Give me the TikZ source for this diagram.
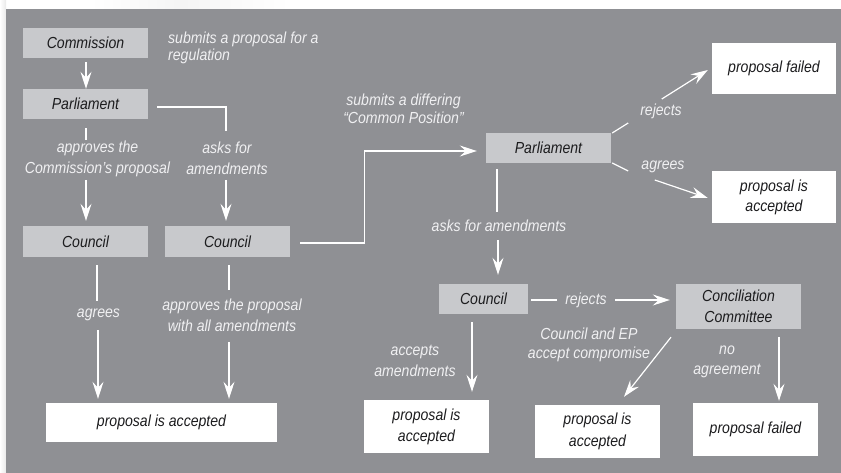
\documentclass[tikz,border=0pt]{standalone}
\usepackage{fontspec}
\setmainfont{Liberation Sans}[FakeStretch=0.88]
\usetikzlibrary{arrows.meta,calc}
\definecolor{panel}{RGB}{143,144,148}
\definecolor{boxgray}{RGB}{200,201,204}
\definecolor{ink}{RGB}{28,28,30}
\definecolor{lbltext}{RGB}{240,240,242}
\newcommand{\dfont}{\fontsize{16}{20}\selectfont\itshape}
\begin{document}
\begin{tikzpicture}[x=1pt,y=-1pt,
  box/.style={fill=boxgray, text=ink, inner sep=0pt, font=\dfont, align=center},
  wbox/.style={box, fill=white},
  lbl/.style={text=lbltext, inner sep=0pt, font=\dfont, align=center},
  conn/.style={draw=white, line width=1.2pt},
  arr/.style={conn, -{Stealth[length=17pt,width=11pt,inset=6pt]}},
]
% background
\useasboundingbox (0,0) rectangle (841,473);
\fill[white] (0,0) rectangle (841,473);
\shade[left color=white, right color=gray!18] (0,0) rectangle (6,473);
\shade[left color=white, right color=gray!8] (90,0) rectangle (180,9);
\shade[left color=gray!8, right color=white] (180,0) rectangle (290,9);
\fill[panel] (6,9) rectangle (841,473);

% boxes
\node[box, minimum width=125pt, minimum height=30pt] (comm) at (85.5,43) {Commission};
\node[box, minimum width=125pt, minimum height=30pt] (parl1) at (85.5,104) {Parliament};
\node[box, minimum width=125pt, minimum height=31pt] (coun1) at (85.5,241.5) {Council};
\node[box, minimum width=125pt, minimum height=31pt] (coun2) at (227.5,241.5) {Council};
\node[wbox, minimum width=231pt, minimum height=39pt] (acc1) at (161.5,422.5) {proposal is accepted};
\node[box, minimum width=125pt, minimum height=30pt] (parl2) at (548.5,148) {Parliament};
\node[wbox, minimum width=124pt, minimum height=51pt] (fail1) at (774,68.5) {proposal failed};
\node[wbox, minimum width=124pt, minimum height=52pt, font=\fontsize{16}{20}\selectfont\itshape] (acc2) at (774,197) {proposal is\\accepted};
\node[box, minimum width=89pt, minimum height=30pt] (coun3) at (483.5,299) {Council};
\node[box, minimum width=125pt, minimum height=45pt, font=\fontsize{16}{21}\selectfont\itshape] (conc) at (738.5,306.5) {Conciliation\\Committee};
\node[wbox, minimum width=125pt, minimum height=53pt, font=\fontsize{16}{21}\selectfont\itshape] (acc3) at (426.5,426.5) {proposal is\\accepted};
\node[wbox, minimum width=125pt, minimum height=53pt, font=\fontsize{16}{22}\selectfont\itshape] (acc4) at (597.5,431.5) {proposal is\\accepted};
\node[wbox, minimum width=125pt, minimum height=53pt] (fail2) at (755.5,429.5) {proposal failed};

% labels
\node[lbl, align=left, anchor=west, font=\fontsize{16}{17}\selectfont\itshape] (t1) at (168,48) {submits a proposal for a\\regulation};
\node[lbl, font=\fontsize{16}{21}\selectfont\itshape] (t2) at (97.5,159) {approves the\\Commission’s proposal};
\node[lbl, font=\fontsize{16}{21}\selectfont\itshape] (t3) at (227,158) {asks for\\amendments};
\node[lbl] (t4) at (98.5,315) {agrees};
\node[lbl, font=\fontsize{16}{21}\selectfont\itshape] (t5) at (232,315.5) {approves the proposal\\with all amendments};
\node[lbl, font=\fontsize{16}{18}\selectfont\itshape] (t6) at (403.5,109) {submits a differing\\“Common Position”};
\node[lbl] (t7) at (499,226) {asks for amendments};
\node[lbl] (t8) at (661,111) {rejects};
\node[lbl] (t9) at (663,167) {agrees};
\node[lbl] (t10) at (586,300) {rejects};
\node[lbl, font=\fontsize{16}{21}\selectfont\itshape] (t11) at (415,360.5) {accepts\\amendments};
\node[lbl, font=\fontsize{16}{19}\selectfont\itshape] (t12) at (589,344.5) {Council and EP\\accept compromise};
\node[lbl, font=\fontsize{16}{20}\selectfont\itshape] (t13) at (727,362) {no\\agreement};

% connectors
\draw[arr] ($(comm.south)+(0.5,4)$) -- ($(parl1.north)+(0.5,0)$);

% Parliament -> approves -> Council
\draw[conn] ($(parl1.south)+(0.5,9)$) -- ($(parl1.south)+(0.5,21)$);
\draw[arr] ($(coun1.north)+(0.5,-46)$) -- ($(coun1.north)+(0.5,-5)$);

% Parliament -> asks for amendments -> Council
\draw[conn] ($(parl1.east)+(9,3)$) -| ($(t3.north)+(-1,-10)$);
\draw[arr] ($(coun2.north)+(-1.5,-46)$) -- ($(coun2.north)+(-1.5,-5)$);

% Council -> agrees -> accepted
\draw[conn] ($(coun1.south)+(11.5,8)$) -- ($(coun1.south)+(11.5,44)$);
\draw[arr] ($(acc1.north)+(-63.5,-73)$) -- ($(acc1.north)+(-63.5,-4)$);

% Council -> approves with all amendments -> accepted
\draw[conn] ($(coun2.south)+(1.5,8)$) -- ($(coun2.south)+(1.5,33)$);
\draw[arr] ($(acc1.north)+(67.5,-61)$) -- ($(acc1.north)+(67.5,-4)$);

% Council -> Parliament (Common Position)
\draw[arr] ($(coun2.east)+(10,1.5)$) -- ++(64,0) |- ($(parl2.west)+(-9,3)$);

% Parliament -> asks for amendments -> Council
\draw[conn] ($(parl2.south)+(-51.5,6)$) -- ($(parl2.south)+(-51.5,49)$);
\draw[arr] ($(coun3.north)+(14.5,-44)$) -- ($(coun3.north)+(14.5,-9)$);

% Parliament -> rejects / agrees
\draw[conn] ($(parl2.east)+(1,-15)$) -- ($(parl2.east)+(17,-25)$);
\draw[arr] ($(fail1.west)+(-50,30.5)$) -- ($(fail1.west)+(-4,1.5)$);
\draw[conn] ($(parl2.east)+(1,15)$) -- ($(parl2.east)+(17,23)$);
\draw[arr] ($(acc2.west)+(-57,-17)$) -- ($(acc2.west)+(-4,1)$);

% Council -> rejects -> Conciliation
\draw[conn] ($(coun3.east)+(3,1)$) -- ($(coun3.east)+(29,1)$);
\draw[arr] ($(conc.west)+(-61,-6.5)$) -- ($(conc.west)+(-6,-6.5)$);

% Council -> accepts amendments -> accepted
\draw[arr] ($(coun3.south)+(-11.5,8)$) -- ($(acc3.north)+(45.5,-8)$);

% Conciliation -> compromise -> accepted
\draw[arr] ($(conc.south)+(-67.5,8)$) -- ($(acc4.north)+(26.5,-8)$);

% Conciliation -> no agreement -> failed
\draw[arr] ($(conc.south)+(40.5,8)$) -- ($(fail2.north)+(23.5,-2)$);
\end{tikzpicture}
\end{document}
